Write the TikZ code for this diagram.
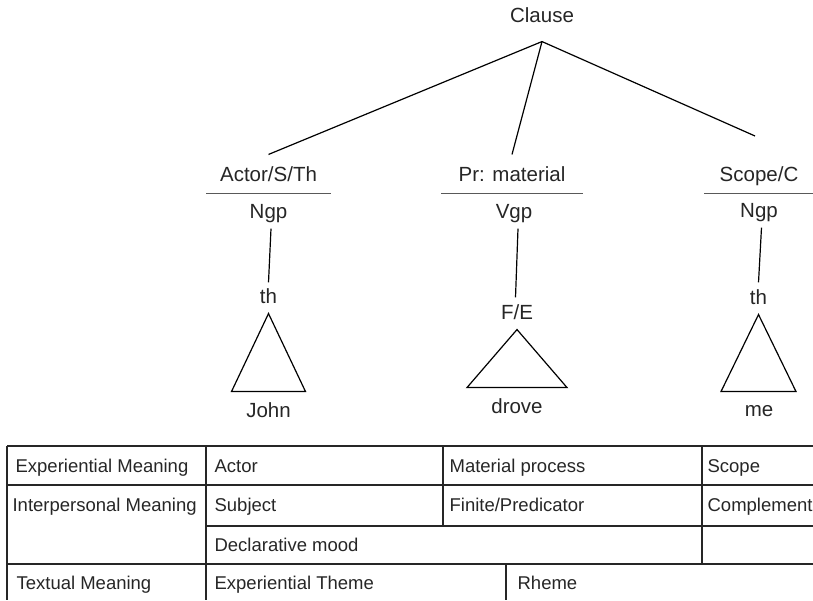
\documentclass[tikz,border=0pt]{standalone}
\usepackage{fontspec}
\setmainfont{Liberation Sans}
\tikzset{
  word/.style={font=\fontsize{20.5}{24}\selectfont, text height=14.7pt, text depth=0pt, inner xsep=0pt, inner ysep=9.6pt},
  role/.style={word, minimum width=#1, inner ysep=11.6pt},
  cell/.style={font=\fontsize{18.5}{22}\selectfont, text height=13.3pt, text depth=0pt, inner sep=0pt, anchor=west},
  under/.style={line width=1.8pt, black!65},
  rule/.style={line width=1.5pt, black!85}
}
\begin{document}
\begin{tikzpicture}[x=1pt, y=-1pt, every node/.style={text=black!85}, line width=1.2pt]
    \useasboundingbox (0,0) rectangle (813,600);
    % tree
    \node[word, inner ysep=18.6pt] (clause) at (542,15) {Clause};
    \node[role=123pt] (actor) at (268.5,174) {Actor/S/Th};
    \node[role=140pt] (proc) at (512,174) {Pr: material};
    \node[role=108pt] (scope) at (759,174) {Scope/C};
    \coordinate (scopeend) at (755,136);
    \node[word] (ngp1) at (268.5,211) {Ngp};
    \node[word] (vgp) at (514,211) {Vgp};
    \node[word] (ngp2) at (759,210) {Ngp};
    \node[word] (th1) at (268.5,296) {th};
    \node[word] (fe) at (517,312) {F/E};
    \node[word] (th2) at (758.5,297) {th};
    \node[word] (john) at (268.5,410) {John};
    \node[word] (drove) at (517,405.7) {drove};
    \node[word] (me) at (759,409.3) {me};
    \draw (clause.south) -- (actor.north);
    \draw (clause.south) -- (proc.north);
    \draw (clause.south) -- (scopeend);
    \draw[under] (actor.south west) -- (actor.south east);
    \draw[under] (proc.south west) -- (proc.south east);
    \draw[under] (scope.south west) -- (scope.south east);
    \draw ([xshift=2.5pt]ngp1.south) -- ([yshift=-4pt]th1.north);
    \draw ([xshift=4pt]vgp.south) -- ([xshift=-1.5pt,yshift=-3pt]fe.north);
    \draw ([xshift=2.5pt]ngp2.south) -- ([yshift=-3pt]th2.north);
    \draw (th1.south) -- ++(-37,78) -- ++(74,0) -- cycle;
    \draw (fe.south) -- ++(-50,58) -- ++(100,0) -- cycle;
    \draw (th2.south) -- ++(-37.5,77) -- ++(75,0) -- cycle;
    % table
    \draw[rule] (7,446) -- (813,446) (7,485) -- (813,485) (206,526) -- (813,526) (7,564) -- (813,564);
    \draw[rule] (7,446) -- (7,600) (206,446) -- (206,600) (443,446) -- (443,526) (702,446) -- (702,564) (506,564) -- (506,600);
    \node[cell] (m1) at (15,466) {Experiential Meaning};
    \node[cell] (m2) at (12,505) {Interpersonal Meaning};
    \node[cell] (m3) at (16,583) {Textual Meaning};
    \node[cell] (c11) at (214,466) {Actor};
    \node[cell] (c12) at (449,466) {Material process};
    \node[cell] (c13) at (707,466) {Scope};
    \node[cell] (c21) at (214,505) {Subject};
    \node[cell] (c22) at (449,505) {Finite/Predicator};
    \node[cell] (c23) at (707,505) {Complement};
    \node[cell] (c31) at (214,545) {Declarative mood};
    \node[cell] (c41) at (214,583) {Experiential Theme};
    \node[cell] (c42) at (517,583) {Rheme};
\end{tikzpicture}
\end{document}
